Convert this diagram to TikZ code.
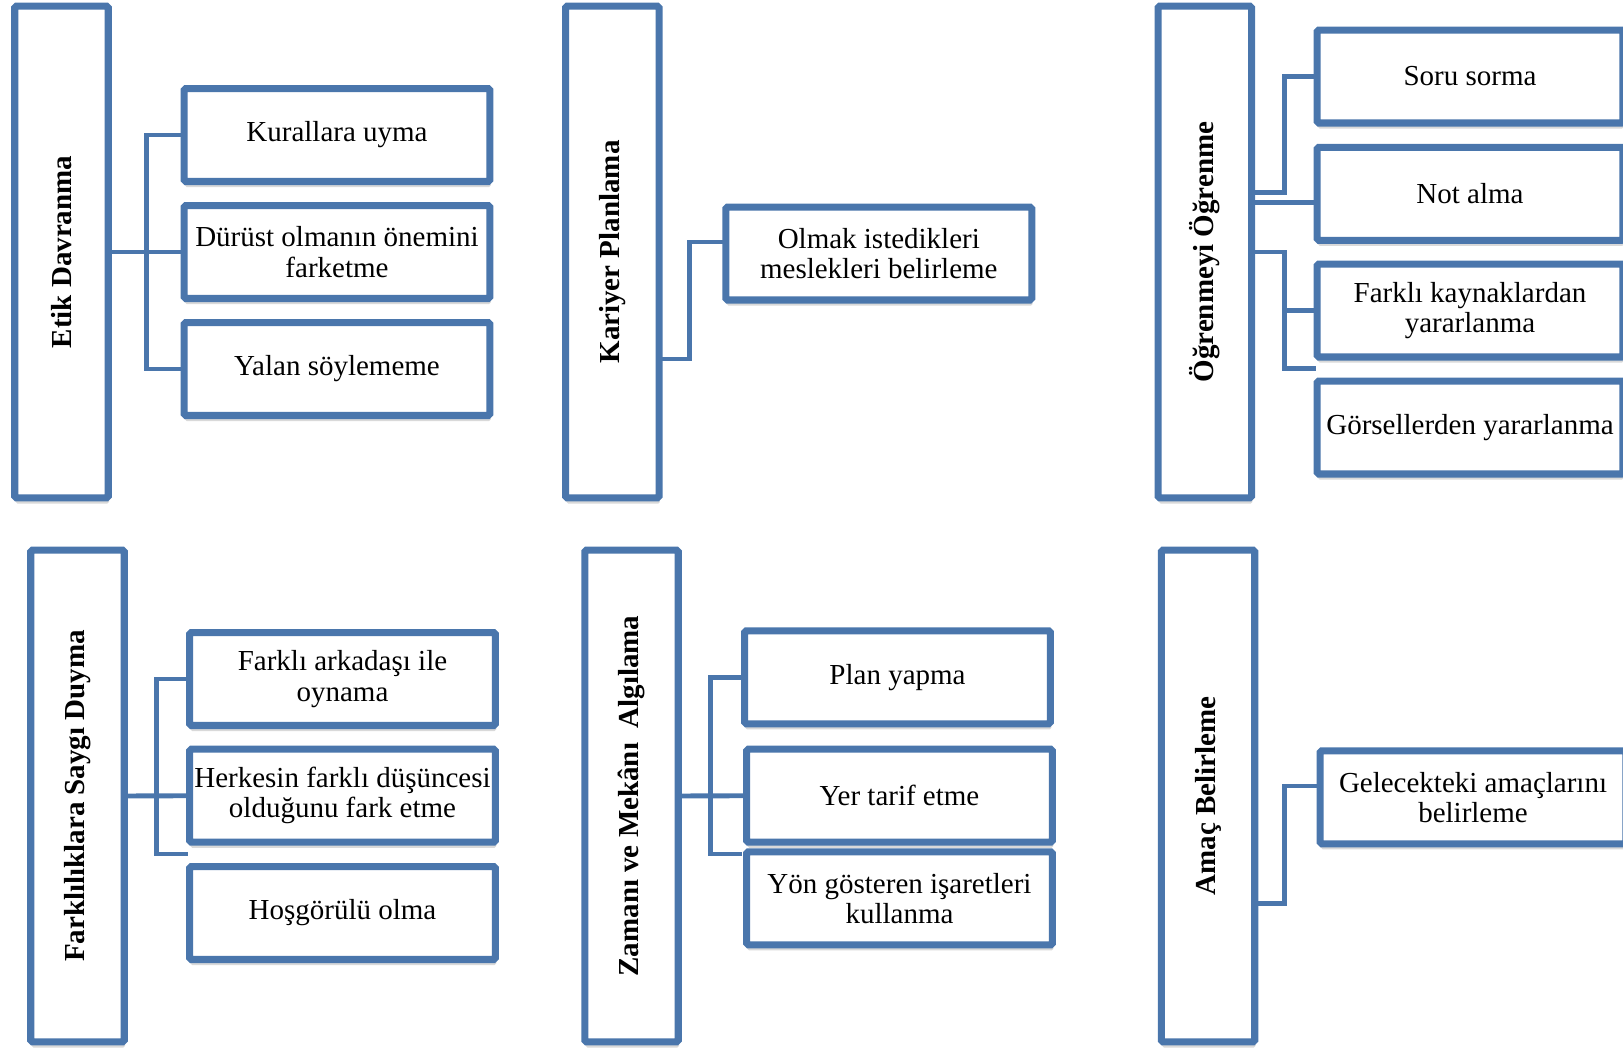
\documentclass[tikz,border=0pt]{standalone}
\usepackage{fontspec}
\setmainfont{Liberation Serif}
\usepackage{graphicx}
\usetikzlibrary{calc,shadows}
\definecolor{kutumavi}{RGB}{74,118,172}

\begin{document}
\begin{tikzpicture}[x=0.02cm, y=-0.02cm,
    mainbox/.style={draw=kutumavi, line width=4pt, fill=white, rounded corners=1pt,
        minimum width=1.87cm, minimum height=9.84cm, inner sep=0pt, outer sep=0pt,
        font=\fontsize{16.5}{17.2}\selectfont\bfseries,
        drop shadow={shadow xshift=0.5pt, shadow yshift=-3.2pt, opacity=0.25, fill=black!60}},
    subbox/.style={draw=kutumavi, line width=4pt, fill=white, rounded corners=1pt,
        minimum width=6.12cm, minimum height=1.86cm, inner sep=0pt, outer sep=0pt,
        align=center, font=\fontsize{16.5}{17.2}\selectfont,
        drop shadow={shadow xshift=0.5pt, shadow yshift=-3.2pt, opacity=0.25, fill=black!60}},
    link/.style={draw=kutumavi, line width=2.8pt}]
    \useasboundingbox (0,0) rectangle (1623,1049);

    % Etik Davranma
    \node[mainbox] (etik) at (61.5,252) {\rotatebox{90}{Etik Davranma}};
    \node[subbox] (k1) at (337,135) {Kurallara uyma};
    \node[subbox] (k2) at (337,252) {Dürüst olmanın önemini\\farketme};
    \node[subbox] (k3) at (337,369) {Yalan söylememe};
    \foreach \n in {k1,k2,k3} {
        \draw[link] (etik.east) -- ++(38,0) |- (\n.west);
    }

    % Kariyer Planlama
    \node[mainbox] (kariyer) at (612.3,252) {\rotatebox{90}{Kariyer Planlama}};
    \node[subbox] (c1) at (878.8,253.5) {Olmak istedikleri\\meslekleri belirleme};
    \draw[link] ($(kariyer.east)+(0,107)$) -- ++(30.3,0) |- ($(c1.west)+(0,-11.5)$);

    % Öğrenmeyi Öğrenme
    \node[mainbox] (ogren) at (1204.8,252) {\rotatebox{90}{Öğrenmeyi Öğrenme}};
    \node[subbox] (o1) at (1470,76.5) {Soru sorma};
    \node[subbox] (o2) at (1470,193.8) {Not alma};
    \node[subbox] (o3) at (1470,310.5) {Farklı kaynaklardan\\yararlanma};
    \node[subbox] (o4) at (1470,427.5) {Görsellerden yararlanma};
    \coordinate (obos) at (1315.7,368.3);
    \draw[link] ($(ogren.east)+(0,-59.3)$) -- ++(32.5,0) |- (o1.west);
    \draw[link] ($(ogren.east)+(0,-49.7)$) coordinate (onot) -- (onot -| o2.west);
    \foreach \n in {o3.west,obos} {
        \draw[link] (ogren.east) -- ++(32.5,0) |- (\n);
    }

    % Farklılıklara Saygı Duyma
    \node[mainbox] (farkli) at (77.5,796) {\rotatebox{90}{Farklılıklara Saygı Duyma}};
    \node[subbox] (f1) at (342.5,679) {Farklı arkadaşı ile\\oynama};
    \node[subbox] (f2) at (342.5,795.7) {Herkesin farklı düşüncesi\\olduğunu fark etme};
    \node[subbox] (f3) at (342.5,913) {Hoşgörülü olma};
    \coordinate (fbos) at (188.3,854);
    \draw[link] (farkli.east) -- (f2.west);
    \foreach \n in {f1.west,fbos} {
        \draw[link] (farkli.east) -- ++(32.5,0) |- (\n);
    }

    % Zamanı ve Mekânı Algılama
    \node[mainbox] (zaman) at (631.5,796) {\rotatebox{90}{Zamanı ve Mekânı\ \ Algılama}};
    \node[subbox] (z1) at (897.5,677.3) {Plan yapma};
    \node[subbox] (z2) at (899.5,795.7) {Yer tarif etme};
    \node[subbox] (z3) at (899.5,898.3) {Yön gösteren işaretleri\\kullanma};
    \coordinate (zbos) at (742,854);
    \draw[link] (zaman.east) -- (z2.west);
    \foreach \n in {z1.west,zbos} {
        \draw[link] (zaman.east) -- ++(32.7,0) |- (\n);
    }

    % Amaç Belirleme
    \node[mainbox] (amac) at (1208,796) {\rotatebox{90}{Amaç Belirleme}};
    \node[subbox] (a1) at (1473,797.3) {Gelecekteki amaçlarını\\belirleme};
    \draw[link] ($(amac.east)+(0,107.3)$) -- ++(29.6,0) |- ($(a1.west)+(0,-11.3)$);

\end{tikzpicture}
\end{document}
